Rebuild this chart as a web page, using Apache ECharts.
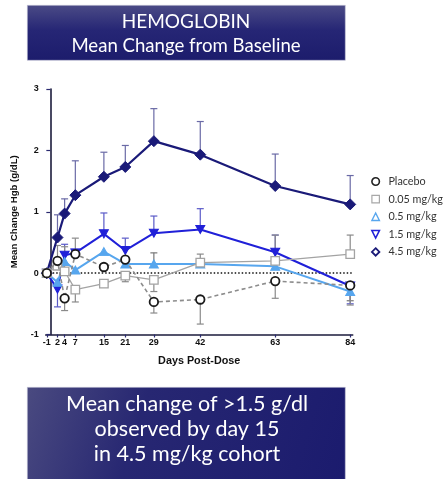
<!DOCTYPE html>
<html>
<head>
<meta charset="utf-8">
<script src="https://cdn.jsdelivr.net/npm/echarts@6/dist/echarts.min.js"></script>
<style>html,body{margin:0;padding:0;background:#fff;}#c{width:448px;height:479px;}</style>
</head>
<body>
<div id="c"></div>
<script>
const days = [-1, 2, 4, 7, 15, 21, 29, 42, 63, 84];
const tickDays = [-1, 2, 4, 7, 15, 21, 29, 42, 63, 84];
const yTicks = [-1, 0, 1, 2, 3];
const seriesNames = ['Placebo', '0.05 mg/kg', '0.5 mg/kg', '1.5 mg/kg', '4.5 mg/kg'];
const placebo    = [0, 0.20, -0.41, 0.31, 0.10, 0.22, -0.47, -0.43, -0.13, -0.20];
const placeboErr = [null, 0.45, -0.61, 0.57, null, null, -0.65, -0.83, -0.41, -0.52];
const d005       = [0, 0.12, 0.03, -0.27, -0.17, -0.04, -0.11, 0.17, 0.20, 0.31];
const d005Err    = [null, null, 0.43, -0.47, null, -0.14, -0.30, 0.31, 0.62, 0.62];
const d05        = [0, -0.15, 0.19, 0.05, 0.35, 0.15, 0.15, 0.15, 0.11, -0.30];
const d05Err     = [null, null, null, null, null, null, 0.33, null, null, -0.45];
const d15        = [0, -0.26, 0.29, 0.33, 0.64, 0.37, 0.65, 0.71, 0.34, -0.21];
const d15Err     = [null, -0.55, 0.47, null, 0.98, 0.57, 0.93, 1.05, 0.62, -0.50];
const d45        = [0, 0.58, 0.97, 1.27, 1.57, 1.73, 2.15, 1.93, 1.42, 1.12];
const d45Err     = [null, 0.95, 1.21, 1.83, 1.97, 2.08, 2.68, 2.47, 1.94, 1.59];

const titleLines = ['HEMOGLOBIN', 'Mean Change from Baseline'];
const noteLines = ['Mean change of >1.5 g/dl', 'observed by day 15', 'in 4.5 mg/kg cohort'];

const chart = echarts.init(document.getElementById('c'), null, {renderer: 'canvas'});

function pts(vals) { return days.map((d, i) => [d, vals[i]]); }
function errPts(vals, errs) {
  const out = [];
  days.forEach((d, i) => { if (errs[i] !== null) out.push([d, vals[i], errs[i]]); });
  return out;
}
function errSeries(vals, errs, color, z) {
  return {
    type: 'custom', z: z, silent: true,
    data: errPts(vals, errs),
    renderItem: function (params, api) {
      const x = api.value(0), y = api.value(1), e = api.value(2);
      const p1 = api.coord([x, y]);
      const p2 = api.coord([x, e]);
      const st = {stroke: color, lineWidth: 1.2};
      return {type: 'group', children: [
        {type: 'line', shape: {x1: p1[0], y1: p1[1], x2: p2[0], y2: p2[1]}, style: st},
        {type: 'line', shape: {x1: p2[0] - 3.5, y1: p2[1], x2: p2[0] + 3.5, y2: p2[1]}, style: st}
      ]};
    }
  };
}

const C_PL = '#1a1a1a', C_PL_LINE = '#8c8c8c';
const C_005 = '#a3a3a3';
const C_05 = '#57a6ee';
const C_15 = '#2020d8';
const C_45 = '#1a1a78';

const option = {
  animation: false,
  grid: {left: 45.7, right: 95.3, top: 89, bottom: 144.5},
  xAxis: {
    type: 'value', min: -1.3, max: 84.7,
    name: 'Days Post-Dose', nameLocation: 'middle', nameGap: 21,
    nameTextStyle: {fontFamily: 'Liberation Sans', fontWeight: 'bold', fontSize: 10.8, color: '#111'},
    axisLine: {onZero: false, lineStyle: {color: '#1c1c3c', width: 1.6}},
    axisTick: {customValues: tickDays, length: 3, lineStyle: {color: '#2a2a70', width: 1.2}},
    axisLabel: {customValues: tickDays, fontFamily: 'Liberation Sans', fontWeight: 'bold', fontSize: 9, color: '#111', margin: 4},
    splitLine: {show: false}
  },
  yAxis: {
    type: 'value', min: -1, max: 3, interval: 1,
    name: 'Mean Change Hgb (g/dL)', nameLocation: 'middle', nameGap: 25,
    nameTextStyle: {fontFamily: 'Liberation Sans', fontWeight: 'bold', fontSize: 9.6, color: '#111'},
    axisLine: {show: true, lineStyle: {color: '#1c1c3c', width: 1.6}},
    axisTick: {show: true, length: 4, lineStyle: {color: '#2a2a70', width: 1.2}},
    axisLabel: {fontFamily: 'Liberation Sans', fontWeight: 'bold', fontSize: 9, color: '#111', margin: 7},
    splitLine: {show: false}
  },
  legend: {
    orient: 'vertical', left: 366, top: 171, itemGap: 6.6, itemWidth: 7.5, itemHeight: 7.5,
    textStyle: {fontFamily: 'Lato', fontSize: 10.8, color: '#333', padding: [0, 0, 0, 4]},
    data: [
      {name: seriesNames[0], icon: 'circle', itemStyle: {color: '#fff', borderColor: '#222', borderWidth: 1.6}},
      {name: seriesNames[1], icon: 'rect', itemStyle: {color: '#fff', borderColor: '#a8a8a8', borderWidth: 1.2}},
      {name: seriesNames[2], icon: 'triangle', itemStyle: {color: '#fff', borderColor: C_05, borderWidth: 1.4}},
      {name: seriesNames[3], icon: 'path://M0,0 L10,0 L5,10 Z', itemStyle: {color: '#fff', borderColor: C_15, borderWidth: 1.6}},
      {name: seriesNames[4], icon: 'diamond', itemStyle: {color: '#fff', borderColor: C_45, borderWidth: 1.8}}
    ]
  },
  graphic: [
    {type: 'rect', left: 27, top: 5, shape: {width: 318, height: 55}, z: 0,
      style: {fill: new echarts.graphic.LinearGradient(0, 0, 0, 1, [
        {offset: 0, color: '#4b4b86'}, {offset: 0.45, color: '#262675'}, {offset: 1, color: '#1c1c6c'}]),
        stroke: '#c8c8d8', lineWidth: 0.6}},
    {type: 'rect', left: 27, top: 387, shape: {width: 318, height: 100}, z: 0,
      style: {fill: new echarts.graphic.LinearGradient(0, 0, 1, 1, [
        {offset: 0, color: '#4a4a80'}, {offset: 0.35, color: '#272772'}, {offset: 1, color: '#1b1b6e'}]),
        stroke: '#c8c8d8', lineWidth: 0.6}}
  ],
  series: [
    errSeries(d45, d45Err, '#6a6aa6', 2),
    {name: seriesNames[4], type: 'line', z: 3, data: pts(d45), symbol: 'diamond', symbolSize: 11,
      lineStyle: {color: C_45, width: 2.2}, itemStyle: {color: C_45, borderColor: C_45}},
    errSeries(d15, d15Err, '#5a5ac8', 2),
    {name: seriesNames[3], type: 'line', z: 4, data: pts(d15), symbol: 'path://M0,0 L10,0 L5,9 Z', symbolSize: [9, 8],
      lineStyle: {color: C_15, width: 2}, itemStyle: {color: C_15, borderColor: C_15}},
    errSeries(d05, d05Err, '#777', 2),
    {name: seriesNames[2], type: 'line', z: 4, data: pts(d05), symbol: 'triangle', symbolSize: [9, 8],
      lineStyle: {color: C_05, width: 2}, itemStyle: {color: C_05, borderColor: C_05}},
    errSeries(d005, d005Err, '#8a8a8a', 2),
    {name: seriesNames[1], type: 'line', z: 5, data: pts(d005), symbol: 'rect', symbolSize: 8.5,
      lineStyle: {color: C_005, width: 1.3}, itemStyle: {color: '#fff', borderColor: C_005, borderWidth: 1.3}},
    errSeries(placebo, placeboErr, '#8a8a8a', 2),
    {name: seriesNames[0], type: 'line', z: 6, data: pts(placebo), symbol: 'circle', symbolSize: 8.5,
      lineStyle: {color: C_PL_LINE, width: 1.6, type: [4, 3]}, itemStyle: {color: '#fff', borderColor: C_PL, borderWidth: 1.8},
      markLine: {silent: true, symbol: 'none', label: {show: false}, z: 1,
        lineStyle: {color: '#111', width: 1.5, type: [1.5, 2]},
        data: [[{coord: [-1.3, 0]}, {coord: [84.7, 0]}]]}}
  ]
};
option.graphic.push({type: 'text', z: 2, style: {text: titleLines[0], fill: '#fff', font: '19px Lato', x: 186, y: 12, textAlign: 'center'}});
option.graphic.push({type: 'text', z: 2, style: {text: titleLines[1], fill: '#fff', font: '18.6px Lato', x: 186, y: 36, textAlign: 'center'}});
noteLines.forEach((t, i) => {
  option.graphic.push({type: 'text', z: 2, style: {text: t, fill: '#fff', font: '21.5px Lato', x: 187, y: 393 + i * 25, textAlign: 'center'}});
});
chart.setOption(option);
</script>
</body>
</html>
